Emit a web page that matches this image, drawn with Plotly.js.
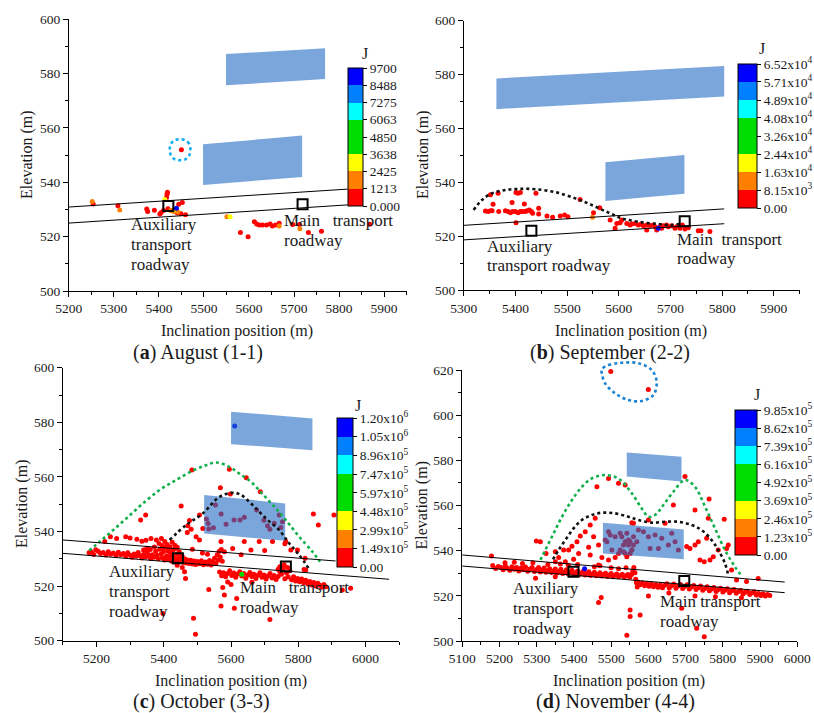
<!DOCTYPE html>
<html>
<head>
<meta charset="utf-8">
<script src="https://cdn.plot.ly/plotly-3.0.1.min.js"></script>
<style>
html,body{margin:0;padding:0;background:#fff;}
#chart{width:814px;height:713px;}
</style>
</head>
<body>
<div id="chart"></div>
<script>
const FONT = 'Liberation Serif, serif';
const W = 814, H = 713;

// eight equal energy classes of the colour scale
const classColours = ['#ff0000', '#ff8000', '#ffff00', '#00dc00', '#00dc00', '#00ffff', '#0080ff', '#0000ff'];

// ---------------- (a) August (1-1) ----------------
const augScaleVals = [0, 1213, 2425, 3638, 4850, 6063, 7275, 8488, 9700];
const augScaleText = ['0.000', '1213', '2425', '3638', '4850', '6063', '7275', '8488', '9700'];
const augLow = [
  [5254,532],[5309,531.4],[5373,530.2],[5375,529.3],[5390,529.7],[5402,528.3],[5405,528.9],
  [5417,534.4],[5418,535.6],[5419,536.3],[5410,529.6],[5420,530.3],[5430,529.6],[5444,531.9],
  [5452,532.6],[5441,528.7],[5449,528.4],[5459,528.1],[5581,521.5],[5598,520],[5612,525.5],
  [5617,524.7],[5623,524.3],[5630,524.3],[5639,524.3],[5647,524.7],[5652,523.9],[5659,524.3],
  [5667,524.9],[5697,524.5],[5712,524.5],[5732,521.5],[5761,522],[5868,524.6],[5450,552]
];
const augHigh = [
  [5252,532.9,1800],[5313,529.8,1800],[5413,533.7,3000],[5426,529.6,1800],[5433,529.3,1900],
  [5437,529.9,3100],[5442,529.1,1700],[5439,530.5,9100],[5551,527.3,1800],[5558,527.3,3000],
  [5667,523.9,1800],[5713,522.9,1800]
];
const augFaceUpper = [[5549,575.7],[5549,587.2],[5769,589.3],[5769,578]];
const augFaceLower = [[5498,539],[5498,554],[5718,557.2],[5718,542]];
const augRoadUpper = [[5200,530.9],[5819,537.5]];
const augRoadLower = [[5200,525],[5819,531.7]];
const augAux = [5421,531.3];
const augMain = [5719,531.9];
const augRing = [
  [5470,552],[5467,554.2],[5459,555.5],[5447,555.8],[5435,555.5],[5427,554.2],[5424,552],
  [5427,549.8],[5435,548.5],[5447,548.1],[5459,548.5],[5467,549.8],[5470,552]
];

// ---------------- (b) September (2-2) ----------------
const sepScaleVals = [0, 8150, 16300, 24400, 32600, 40800, 48900, 57100, 65200];
const sepScaleText = ['0.00', '8.15x10<sup>3</sup>', '1.63x10<sup>4</sup>', '2.44x10<sup>4</sup>', '3.26x10<sup>4</sup>',
  '4.08x10<sup>4</sup>', '4.89x10<sup>4</sup>', '5.71x10<sup>4</sup>', '6.52x10<sup>4</sup>'];
const sepLow = [
  [5351.5,535.4],[5366.3,536],[5356.6,531.9],[5393.3,532.6],[5401,536.3],[5404.9,536],[5409.4,536.3],
  [5417.1,532],[5439.6,536],[5341.8,529.4],[5347,529.2],[5351.5,529.5],[5354.7,529.5],[5367.5,529.2],
  [5380.4,529.5],[5385.6,529.2],[5390.1,528.8],[5394.6,529.2],[5399.7,529.2],[5404.9,528.8],
  [5409.4,529.2],[5413.9,529.2],[5419,529.2],[5422.3,529.5],[5426.8,529.8],[5430.6,529.2],
  [5433.2,528.6],[5444.8,528.3],[5444.8,530.4],[5401,525.1],[5460.9,527.6],[5471.8,527.1],
  [5486.6,527.6],[5495,527.9],[5501.4,527.3],[5551,528.8],[5525,533.7],[5563,530.6],
  [5583.2,526.1],[5592.8,523],[5596.1,524.8],[5602.5,525.1],[5605.7,526.1],[5615.4,524.8],
  [5621.8,524.2],[5625,524.6],[5631.5,524.8],[5637.9,524.2],[5643.1,524.6],[5647.6,523.9],
  [5654,524.2],[5660.4,524],[5666.9,524.2],[5670.1,523.6],[5679.7,523.6],[5686.2,523.9],
  [5692.6,524.2],[5695.8,523.6],[5702.3,523.9],[5711.9,523.6],[5718.4,523],[5728,522.7],
  [5734.5,523.2],[5722.9,524.2],[5654,522.4],[5673.3,522.4],[5683,523],[5708.7,523],
  [5753.8,522.1],[5758.9,522.1],[5776.3,521.8]
];
const sepHigh = [[5549,527.1,12000],[5676.5,523,62000]];
const sepFaceUpper = [[5363,567.2],[5363,578.6],[5804,583.2],[5804,571.9]];
const sepFaceLower = [[5574,533.1],[5574,547.5],[5727,550.2],[5727,535.8]];
const sepRoadUpper = [[5300,524.1],[5804,530.2]];
const sepRoadLower = [[5300,518.7],[5804,524.7]];
const sepAux = [5430.7,522.1];
const sepMain = [5727.5,525.6];
const sepFractureZone = [
  [5319,529.8],[5335,533.5],[5355,536],[5380.5,537.2],[5406,537.6],[5438,537.5],[5477,536.4],
  [5516,534.1],[5548,531.6],[5580,528.8],[5606,526.7],[5638,525.4],[5677,524.6],[5702,524.2],[5721.6,524.8]
];

// ---------------- (c) October (3-3) ----------------
const octScaleVals = [0, 149000, 299000, 448000, 597000, 747000, 896000, 1050000, 1200000];
const octScaleText = ['0.00', '1.49x10<sup>5</sup>', '2.99x10<sup>5</sup>', '4.48x10<sup>5</sup>', '5.97x10<sup>5</sup>',
  '7.47x10<sup>5</sup>', '8.96x10<sup>5</sup>', '1.05x10<sup>6</sup>', '1.20x10<sup>6</sup>'];
const octLow = [
  // along the auxiliary transport roadway
  [5178,532.2],[5185,532.5],[5192,531.6],[5198,533.3],[5205,532.8],[5212,531.9],[5220,532.3],[5228,531.4],
  [5235,532.6],[5242,531.7],[5250,532.1],[5258,531.2],[5265,532.4],[5272,531.5],[5280,531.9],[5287,530.9],
  [5293,532.2],[5300,531.3],[5306,530.6],[5312,531.8],[5318,530.9],[5324,532.3],[5330,531.1],[5335,530.3],
  [5340,531.6],[5346,530.7],[5351,532.4],[5356,531.2],[5361,530.1],[5366,531.5],[5371,530.6],[5376,532.8],
  [5380,531.3],[5384,530],[5388,533.5],[5392,531.8],[5396,530.4],[5399,532.6],[5402,529.6],[5405,534.2],
  [5408,531],[5411,529.9],[5414,533.1],[5417,530.6],[5420,532],[5423,529.2],[5426,531.4],[5429,528.8],
  [5432,530.5],[5435,533.8],[5438,529.7],[5441,531.8],[5444,528.9],[5447,530.4],[5450,529.3],[5454,531.2],
  [5458,528.7],[5462,530],[5466,528.5],[5470,529.6],[5475,528.3],[5480,529.5],[5485,528.1],[5490,529.2],
  [5495,527.9],[5500,529],[5506,528.2],[5512,529.3],[5518,527.8],[5524,528.8],[5530,528],[5536,529.4],
  [5541,527.7],[5546,528.9],[5551,530.2],[5555,528.4],[5559,531.5],[5562,529.6],[5565,532.8],[5568,530.7],
  [5571,533.4],[5574,529.1],
  [5386,535.6],[5395,534.9],[5403,536.3],[5410,535.2],[5418,534.4],[5425,536.1],[5433,535],[5440,534.2],
  [5398,533.8],[5412,532.9],[5428,533.2],[5446,532.6],[5360,533.4],[5372,534.3],[5350,533.9],[5340,533.2],
  // above the roadways
  [5224.6,536.3],[5241.4,538.1],[5260,537.4],[5286.9,538.1],[5300,537.6],[5320,537.2],[5335,536.4],
  [5347,536.8],[5362,537.4],[5378,536.9],[5393,537.4],[5331.3,544.2],[5346.1,546],[5451.8,549.3],
  [5476.5,544],[5481.4,540.8],[5496.3,538.1],[5506.1,536.9],[5470,539.6],[5485,533.5],[5515,532.1],
  [5530,531.7],[5471.6,542.1],[5506.2,546],[5516,541.1],
  // around the working face
  [5526.9,544.6],[5531.9,542.9],[5533.8,540.9],[5547.7,541.4],[5553.6,549.7],[5570.4,546.4],[5585.2,542.7],
  [5608.9,544.2],[5626.7,544.2],[5639.5,545.2],[5676,547.9],[5697.8,544.1],[5708.6,542.1],[5715.6,540.8],
  [5728.4,543],[5743.2,546],[5748.1,541.5],[5753,543.6],[5595,562.8],[5645.4,559.7],[5687,554.6],
  [5568.4,556],[5598,553.7],[5483.5,562.5],
  [5570.2,536.3],[5580.1,532.6],[5604.8,533.8],[5639.4,536.3],[5659.1,533.2],[5683.8,536.3],[5723.3,536.3],
  [5762.8,536.3],[5797.4,533.2],[5820.1,530.2],[5822.1,525.9],[5844.8,546.4],[5859.6,542.4],[5906,546],
  [5760,535.5],[5777.8,533.2],[5817,526.1],[5630,531.5],[5700,533],
  // along the main transport roadway
  [5566,525.2],[5572,523.8],[5578,524.9],[5584,523.4],[5590,524.6],[5596,525.6],[5602,523.9],[5608,524.8],
  [5614,523.2],[5620,524.4],[5626,525.3],[5632,523.7],[5638,524.6],[5644,522.9],[5650,524.1],[5656,525],
  [5662,523.5],[5668,524.3],[5674,522.8],[5680,524],[5686,524.9],[5692,523.2],[5698,524.1],[5704,522.6],
  [5710,523.7],[5716,524.6],[5722,523],[5728,523.9],[5734,522.4],[5740,523.5],[5745,525.3],[5750,524.3],
  [5755,526.2],[5760,522.7],[5765,524.8],[5770,523.3],[5775,525.6],[5780,522.3],[5786,523.4],[5792,521.9],
  [5798,522.8],[5804,521.6],[5810,522.6],[5816,521.2],[5822,522.1],[5828,520.8],[5834,521.7],[5840,520.4],
  [5846,521.3],[5852,520],[5858,521],[5864,520.3],[5870,519.6],[5876,520.6],[5882,519.8],
  [5745,527.1],[5752,526.5],[5768,526.8],[5758,527.8],[5740,526.2],
  // below the roadways
  [5461.7,525.3],[5464.6,522.8],[5533.8,518.8],[5575.3,519.5],[5580.2,516.7],[5570.3,512.7],[5609.8,511.9],
  [5488.4,508.2],[5494.3,502.4],[5397.5,510],[5616.8,515.5],[5715.5,507.8],[5930.9,518.6],[5955.6,519.2],
  [5440,527.6],[5455,526.8],[5590,521.5],[5600,520.6],[5662,521.4]
];
const octHigh = [[5632,524.3,650000],[5610.9,578.6,1100000]];
const octFaceUpper = [[5600,572],[5600,583.9],[5842,581.4],[5842,569.8]];
const octFaceLower = [[5520,539.3],[5520,553.4],[5761,550.3],[5761,536.6]];
const octRoadUpper = [[5100,536.9],[5911,529.2]];
const octRoadLower = [[5100,532],[6070,522.5]];
const octAux = [5442,530.2];
const octMain = [5763,527.2];
const octOuterZone = [
  [5178.3,533],[5209.9,536.3],[5249.4,540.5],[5288.9,544.8],[5338.3,550.3],[5387.7,555.2],[5437,558.9],
  [5486.4,562.3],[5525.9,564.3],[5555.6,565.3],[5595,563.7],[5624.7,561.2],[5659.3,558.2],[5693.8,553.7],
  [5728.4,549.1],[5763,544.2],[5802.5,538.1],[5842,532.6],[5864.7,528.9]
];
const octInnerZone = [
  [5417.3,536.9],[5466.7,542.4],[5516,546.6],[5565.4,552.7],[5605,554.2],[5629.6,553.4],[5664.2,549.7],
  [5703.7,544.8],[5743.2,540.5],[5772.8,535.7],[5802.5,531.4],[5834,525.9]
];

// ---------------- (d) November (4-4) ----------------
const novScaleVals = [0, 123000, 246000, 369000, 492000, 616000, 739000, 862000, 985000];
const novScaleText = ['0.00', '1.23x10<sup>5</sup>', '2.46x10<sup>5</sup>', '3.69x10<sup>5</sup>', '4.92x10<sup>5</sup>',
  '6.16x10<sup>5</sup>', '7.39x10<sup>5</sup>', '8.62x10<sup>5</sup>', '9.85x10<sup>5</sup>'];
const novLow = [
  // along the auxiliary transport roadway
  [5182,533.4],[5190,532.1],[5197,533],[5204,532.5],[5210,531.6],[5216,533.2],[5222,532.2],[5228,531.3],
  [5234,532.9],[5240,531.8],[5246,532.6],[5252,531],[5258,532.3],[5264,531.5],[5270,532.8],[5276,530.9],
  [5282,531.9],[5288,532.6],[5294,530.8],[5300,531.7],[5305,532.5],[5310,530.6],[5315,531.4],[5320,532.3],
  [5325,530.4],[5330,531.2],[5335,532],[5340,530.3],[5345,531],[5350,531.9],[5355,530.1],[5360,530.8],
  [5365,531.8],[5370,529.9],[5375,530.6],[5380,531.5],[5385,529.7],[5390,530.4],[5395,531.3],[5400,529.6],
  [5405,530.2],[5410,531],[5415,529.4],[5420,530],[5425,530.9],[5430,529.2],[5435,529.9],[5440,530.7],
  [5445,529],[5450,529.7],[5455,530.4],[5460,528.9],[5465,529.5],[5470,530.2],[5475,528.8],[5480,529.4],
  [5485,530],[5490,528.6],[5495,529.2],[5500,529.9],[5505,528.5],[5510,529.1],[5515,529.7],[5520,528.4],
  [5525,529],[5530,529.6],[5535,528.3],[5540,528.9],[5545,529.5],[5550,528.2],[5555,529.4],[5558,531],
  [5561,532.5],[5564,530.2],[5566,527.3],[5568,525.8],[5570,523.9],
  [5215,534.6],[5240,534.9],[5262,534.3],[5290,534.7],[5330,533.9],[5385,533.5],[5410,533.9],[5455,532.9],
  [5470,533.3],[5500,532.4],[5520,532],[5540,532.4],[5178.7,537.6],[5297,527.8],[5350,528.5],
  // above the roadways
  [5299.3,544.3],[5310,544],[5325.2,538.8],[5350.2,539.5],[5359.1,537],[5372.5,540.3],[5385.9,540.3],
  [5394.8,542],[5408.2,544],[5417.1,546.5],[5430.5,548.4],[5443.9,551.4],[5457.3,554.3],[5452.9,546.2],
  [5439.5,541.5],[5466.3,542.5],[5484.1,544.7],[5497.6,546.9],[5502,540.3],[5510.9,537],[5519.8,538.8],
  [5533.2,542.5],[5546.6,544.7],[5560,552.1],[5493,535.9],[5475.2,537],[5466.3,533.6],[5443.9,538.1],
  [5412.7,538.8],[5399.3,536.2],[5377,535.1],[5363.6,534.1],[5350.2,535.1],
  [5461.8,568.3],[5493,572],[5519.8,569.8],[5537.7,569.1],[5698.4,572.8],[5667.1,560.2],[5600.2,553.6],
  [5644.8,552.1],[5555.5,552.4],[5725.2,558],[5760.9,554.3],[5803.8,553.9],[5763,562.9],
  [5499,619.3],[5600,611.4],
  // around the working face
  [5493,548.4],[5510.9,546.2],[5524.3,547.7],[5537.7,544],[5546.6,542.5],[5555.6,540.3],[5551.1,538.8],
  [5533.2,539.5],[5542.2,537.3],[5560,542.5],[5569,544],[5488.6,544],[5528.7,546.2],[5542.1,547.7],
  [5551.1,544],[5555.5,540.3],[5560,546.2],[5573.4,549.1],[5586.8,548.4],[5600.2,546.2],[5618,546.9],
  [5635.9,545.5],[5662.7,547.7],[5653.8,542.5],[5671.6,544],[5680.5,540.3],[5627,541],[5604.6,541],
  [5537.7,538.8],[5524.3,540.3],
  [5702.9,541.8],[5711.8,541],[5725.2,542.5],[5734.1,544],[5756.5,545.5],[5787.7,540.3],[5738.6,535.9],
  [5750,535.1],[5765.4,535.9],[5774.3,537.3],[5810,541],[5814.5,542.5],[5823.4,531.4],[5863.6,526.3],
  [5894.9,527.7],[5836.8,527],
  // along the main transport roadway
  [5572,526],[5578,524.9],[5584,525.7],[5590,524.5],[5596,525.5],[5602,524.2],[5608,525.2],[5614,524],
  [5620,525],[5626,523.8],[5632,524.8],[5638,523.6],[5644,524.7],[5650,525.4],[5656,523.5],[5662,524.5],
  [5668,525.2],[5674,523.4],[5680,524.3],[5686,525],[5692,523.2],[5698,524.1],[5704,524.9],[5710,523],
  [5716,523.9],[5722,524.6],[5728,522.8],[5734,523.6],[5740,524.3],[5746,522.5],[5752,523.3],[5758,524],
  [5764,522.2],[5770,523],[5776,523.7],[5782,521.9],[5788,522.8],[5794,523.4],[5800,521.7],[5806,522.5],
  [5812,523.1],[5818,521.4],[5824,522.2],[5830,522.8],[5836,521.1],[5842,521.9],[5848,522.4],[5854,520.8],
  [5860,521.6],[5866,522],[5872,520.6],[5878,521.3],[5884,521.8],[5890,520.4],[5896,521],[5902,520.2],
  [5908,520.9],[5914,519.9],[5920,520.6],[5926,520.1],
  // below the roadways
  [5600.2,519.9],[5577.9,511.5],[5725.2,519.9],[5689.5,514.5],[5729.7,505.6],[5750.2,501.9],[5551,513.7],
  [5551.1,510.8],[5542.2,502.6],[5473.4,519.3],[5466.3,517],[5655,521.2],[5780,519.6],[5850,519.2]
];
const novHigh = [[5428.8,532,920000]];
const novFaceUpper = [[5542,572.8],[5542,583.5],[5689,581.6],[5689,570.6]];
const novFaceLower = [[5478,538.8],[5478,552.4],[5695,549.4],[5695,536.2]];
const novRoadUpper = [[5100,538.1],[5966,526.1]];
const novRoadLower = [[5100,533.2],[5966,521.4]];
const novAux = [5399,530.7];
const novMain = [5696.4,526.6];
const novOuterZone = [
  [5310,535.9],[5323.4,540.3],[5345.7,547.7],[5368,555],[5394.8,562.4],[5421.6,568.3],[5448.4,572],
  [5484.1,573.5],[5521,571.8],[5555.5,565.4],[5582.3,558.7],[5600.2,555],[5618,555.8],[5640.4,560.2],
  [5667.1,566.1],[5698.4,571.3],[5725.2,568.3],[5752,559.5],[5778.8,549.9],[5805.6,540.3],[5832.4,532.9],[5852,528.5]
];
const novInnerZone = [
  [5343.9,536.1],[5359,540.3],[5377,544.7],[5399.3,549.9],[5421.6,553.6],[5448.4,555.8],[5475.2,556.8],
  [5510.9,556.5],[5546.6,555],[5573.4,553.6],[5609.1,552.4],[5644.8,552.8],[5680.5,552.8],[5716.3,551.4],
  [5743.1,549.1],[5769.8,544.7],[5787.7,540.3],[5805.6,534.4],[5814.5,529.2]
];
const novRing = [
  [5475,620.3],[5492.9,622.2],[5528.6,623.2],[5573.2,623],[5608.9,620],[5622.3,614.8],[5613.4,608.9],
  [5582.1,606.3],[5546.4,606.7],[5510.7,609.7],[5483.9,614.1],[5475,618.5],[5475,620.3]
];

// ---------------- layout helpers ----------------
const col = (rows, i) => rows.map(r => r[i]);
const xDom = (l, r) => [l / W, r / W];
const yDom = (t, b) => [1 - b / H, 1 - t / H];

function binScale() {
  const s = [];
  classColours.forEach((c, i) => { s.push([i / 8, c]); s.push([(i + 1) / 8, c]); });
  return s;
}

const tickFont = {family: FONT, size: 13.5, color: '#1a1a1a'};

function xAxis(dom, range, dtick, anchor) {
  return {
    domain: xDom(dom[0], dom[1]), range: range, anchor: anchor, tickmode: 'linear', tick0: range[0], dtick: dtick,
    showline: true, linecolor: '#000', linewidth: 1, ticks: 'outside', ticklen: 5, tickcolor: '#000',
    minor: {ticks: 'outside', ticklen: 3, tickcolor: '#000', dtick: dtick / 2},
    showgrid: false, zeroline: false, tickfont: tickFont, fixedrange: true, automargin: false
  };
}
function yAxis(dom, range, dtick, anchor) {
  return {
    domain: yDom(dom[0], dom[1]), range: range, anchor: anchor, tickmode: 'linear', tick0: range[0], dtick: dtick,
    showline: true, linecolor: '#000', linewidth: 1, ticks: 'outside', ticklen: 5, tickcolor: '#000',
    minor: {ticks: 'outside', ticklen: 3, tickcolor: '#000', dtick: dtick / 2},
    showgrid: false, zeroline: false, tickfont: tickFont, fixedrange: true, automargin: false
  };
}

const panels = [
  {xa: 'x', ya: 'y', xPx: [69, 407.6], yPx: [19.3, 291], xRange: [5200, 5950], yRange: [500, 600], xTick: 100,
   low: augLow, high: augHigh, vals: augScaleVals, text: augScaleText,
   cb: {x: 349, top: 68, len: 138, thick: 15},
   faces: [augFaceUpper, augFaceLower], roads: [augRoadUpper, augRoadLower], aux: augAux, main: augMain,
   curves: [{pts: augRing, color: '#10aef0'}]},
  {xa: 'x2', ya: 'y2', xPx: [465, 801.6], yPx: [20.7, 290.3], xRange: [5300, 5950], yRange: [500, 600], xTick: 100,
   low: sepLow, high: sepHigh, vals: sepScaleVals, text: sepScaleText,
   cb: {x: 740, top: 64, len: 144, thick: 19},
   faces: [sepFaceUpper, sepFaceLower], roads: [sepRoadUpper, sepRoadLower], aux: sepAux, main: sepMain,
   curves: [{pts: sepFractureZone, color: '#111'}]},
  {xa: 'x3', ya: 'y3', xPx: [63, 400.2], yPx: [367.7, 640.7], xRange: [5100, 6100], yRange: [500, 600], xTick: 200, xTick0: 5200,
   low: octLow, high: octHigh, vals: octScaleVals, text: octScaleText,
   cb: {x: 337.7, top: 418, len: 149, thick: 16},
   faces: [octFaceUpper, octFaceLower], roads: [octRoadUpper, octRoadLower], aux: octAux, main: octMain,
   curves: [{pts: octOuterZone, color: '#12b04c'}, {pts: octInnerZone, color: '#111'}]},
  {xa: 'x4', ya: 'y4', xPx: [463.3, 799.3], yPx: [370, 641], xRange: [5100, 6000], yRange: [500, 620], xTick: 100,
   low: novLow, high: novHigh, vals: novScaleVals, text: novScaleText,
   cb: {x: 737, top: 410, len: 145, thick: 22},
   faces: [novFaceUpper, novFaceLower], roads: [novRoadUpper, novRoadLower], aux: novAux, main: novMain,
   curves: [{pts: novOuterZone, color: '#12b04c'}, {pts: novInnerZone, color: '#111'}, {pts: novRing, color: '#1a82d2', ya: 'y5'}]}
];

const traces = [];
const layout = {
  width: W, height: H, margin: {l: 0, r: 0, t: 0, b: 0},
  paper_bgcolor: '#ffffff', plot_bgcolor: 'rgba(0,0,0,0)', showlegend: false,
  font: {family: FONT, color: '#1a1a1a'}, annotations: []
};

panels.forEach((p, k) => {
  const n = k === 0 ? '' : String(k + 1);
  const xa = xAxis(p.xPx, p.xRange, p.xTick, p.ya);
  if (p.xTick0) { xa.tick0 = p.xTick0; }
  layout['xaxis' + n] = xa;
  layout['yaxis' + n] = yAxis(p.yPx, p.yRange, 20, p.xa);
  const base = {type: 'scatter', xaxis: p.xa, yaxis: p.ya, hoverinfo: 'skip', showlegend: false};

  traces.push(Object.assign({}, base, {
    mode: 'markers', x: col(p.low, 0), y: col(p.low, 1), cliponaxis: false,
    marker: {size: 5, color: classColours[0], line: {width: 0}}
  }));
  traces.push(Object.assign({}, base, {
    mode: 'markers', x: col(p.high, 0), y: col(p.high, 1), cliponaxis: false,
    marker: {
      size: 5, color: col(p.high, 2), colorscale: binScale(), cmin: 0, cmax: p.vals[p.vals.length - 1],
      line: {width: 0}, showscale: true,
      colorbar: {
        x: p.cb.x / W, xanchor: 'left', xpad: 0, y: 1 - p.cb.top / H, yanchor: 'top', ypad: 0,
        len: p.cb.len, lenmode: 'pixels', thickness: p.cb.thick, thicknessmode: 'pixels',
        outlinewidth: 1, outlinecolor: '#000', tickmode: 'array', tickvals: p.vals, ticktext: p.text,
        ticks: 'outside', ticklen: 4, tickwidth: 1, tickcolor: '#000',
        tickfont: {family: FONT, size: 13.5, color: '#1a1a1a'}
      }
    }
  }));
  p.faces.forEach(f => traces.push(Object.assign({}, base, {
    mode: 'lines', x: col(f, 0), y: col(f, 1), fill: 'toself', fillcolor: 'rgba(33,107,197,0.6)', line: {width: 0}
  })));
  p.curves.forEach(c => traces.push(Object.assign({}, base, {
    mode: 'lines', yaxis: c.ya || p.ya, x: col(c.pts, 0), y: col(c.pts, 1),
    line: {color: c.color, width: 2.6, dash: 'dot', shape: 'spline', smoothing: 1}
  })));
  p.roads.forEach(r => traces.push(Object.assign({}, base, {
    mode: 'lines', x: col(r, 0), y: col(r, 1), line: {color: '#000', width: 1}
  })));
  traces.push(Object.assign({}, base, {
    mode: 'markers', x: [p.aux[0], p.main[0]], y: [p.aux[1], p.main[1]], cliponaxis: false,
    marker: {symbol: 'square-open', size: 10, color: '#000', line: {width: 2, color: '#000'}}
  }));
});

// hidden axis sharing the scale of panel (d) but reaching a little higher, so the dotted ring above 620 m stays visible
(function () {
  const d = panels[3];
  const ext = 15;
  const pxPerM = (d.yPx[1] - d.yPx[0]) / (d.yRange[1] - d.yRange[0]);
  layout.yaxis5 = {
    domain: yDom(d.yPx[0] - ext, d.yPx[1]), range: [d.yRange[0], d.yRange[1] + ext / pxPerM],
    anchor: 'x4', visible: false, fixedrange: true, showgrid: false, zeroline: false
  };
})();

const ann = layout.annotations;
const txt = (s, x, y, xref, yref, extra) => ann.push(Object.assign({
  text: s, x: x, y: y, xref: xref, yref: yref, showarrow: false,
  font: {family: FONT, size: 17, color: '#1a1a1a'}
}, extra || {}));

// captions under each panel
const capFont = {family: FONT, size: 20, color: '#1a1a1a'};
txt('(<b>a</b>) August (1-1)', 198 / W, 1 - 352.5 / H, 'paper', 'paper', {font: capFont, xanchor: 'center', yanchor: 'middle'});
txt('(<b>b</b>) September (2-2)', 612 / W, 1 - 352.5 / H, 'paper', 'paper', {font: capFont, xanchor: 'center', yanchor: 'middle'});
txt('(<b>c</b>) October (3-3)', 201.7 / W, 1 - 701.7 / H, 'paper', 'paper', {font: capFont, xanchor: 'center', yanchor: 'middle'});
txt('(<b>d</b>) November (4-4)', 616.7 / W, 1 - 701.7 / H, 'paper', 'paper', {font: capFont, xanchor: 'center', yanchor: 'middle'});

// axis titles
const titleFont = {family: FONT, size: 16, color: '#1a1a1a'};
[[238, 331], [633, 331], [231.5, 680.7], [631, 680.7]].forEach(q =>
  txt('Inclination position (m)', q[0] / W, 1 - q[1] / H, 'paper', 'paper', {font: titleFont, xanchor: 'center', yanchor: 'middle'}));
[[27, 155], [424, 155], [22, 504], [423, 505.5]].forEach(q =>
  txt('Elevation (m)', q[0] / W, 1 - q[1] / H, 'paper', 'paper', {font: titleFont, textangle: -90, xanchor: 'center', yanchor: 'middle'}));

// colour bar units
[[366, 53], [764, 48], [359, 405], [759, 394]].forEach(q =>
  txt('J', q[0] / W, 1 - q[1] / H, 'paper', 'paper', {font: {family: FONT, size: 16, color: '#1a1a1a'}, xanchor: 'center', yanchor: 'middle'}));

// roadway labels, one line per annotation
function label(lines, x, y, xa, ya, gap) {
  lines.forEach((s, i) => txt(s, x, y, xa, ya, {xanchor: 'left', yanchor: 'middle', yshift: -i * gap}));
}
label(['Auxiliary', 'transport', 'roadway'], 5333, 524.3, 'x', 'y', 20);
label(['Main\u00a0\u00a0 transport', 'roadway'], 5673, 526.1, 'x', 'y', 20);
label(['Auxiliary', 'transport roadway'], 5340, 516.2, 'x2', 'y2', 19.3);
label(['Main\u00a0 transport', 'roadway'], 5709, 518.9, 'x2', 'y2', 19.3);
label(['Auxiliary', 'transport', 'roadway'], 5230, 525.5, 'x3', 'y3', 20);
label(['Main\u00a0\u00a0 transport', 'roadway'], 5622, 519.4, 'x3', 'y3', 20);
label(['Auxiliary', 'transport', 'roadway'], 5232, 523.3, 'x4', 'y4', 20);
label(['Main transport', 'roadway'], 5625, 517.4, 'x4', 'y4', 20);

Plotly.newPlot('chart', traces, layout, {displayModeBar: false, staticPlot: true});
</script>
</body>
</html>
